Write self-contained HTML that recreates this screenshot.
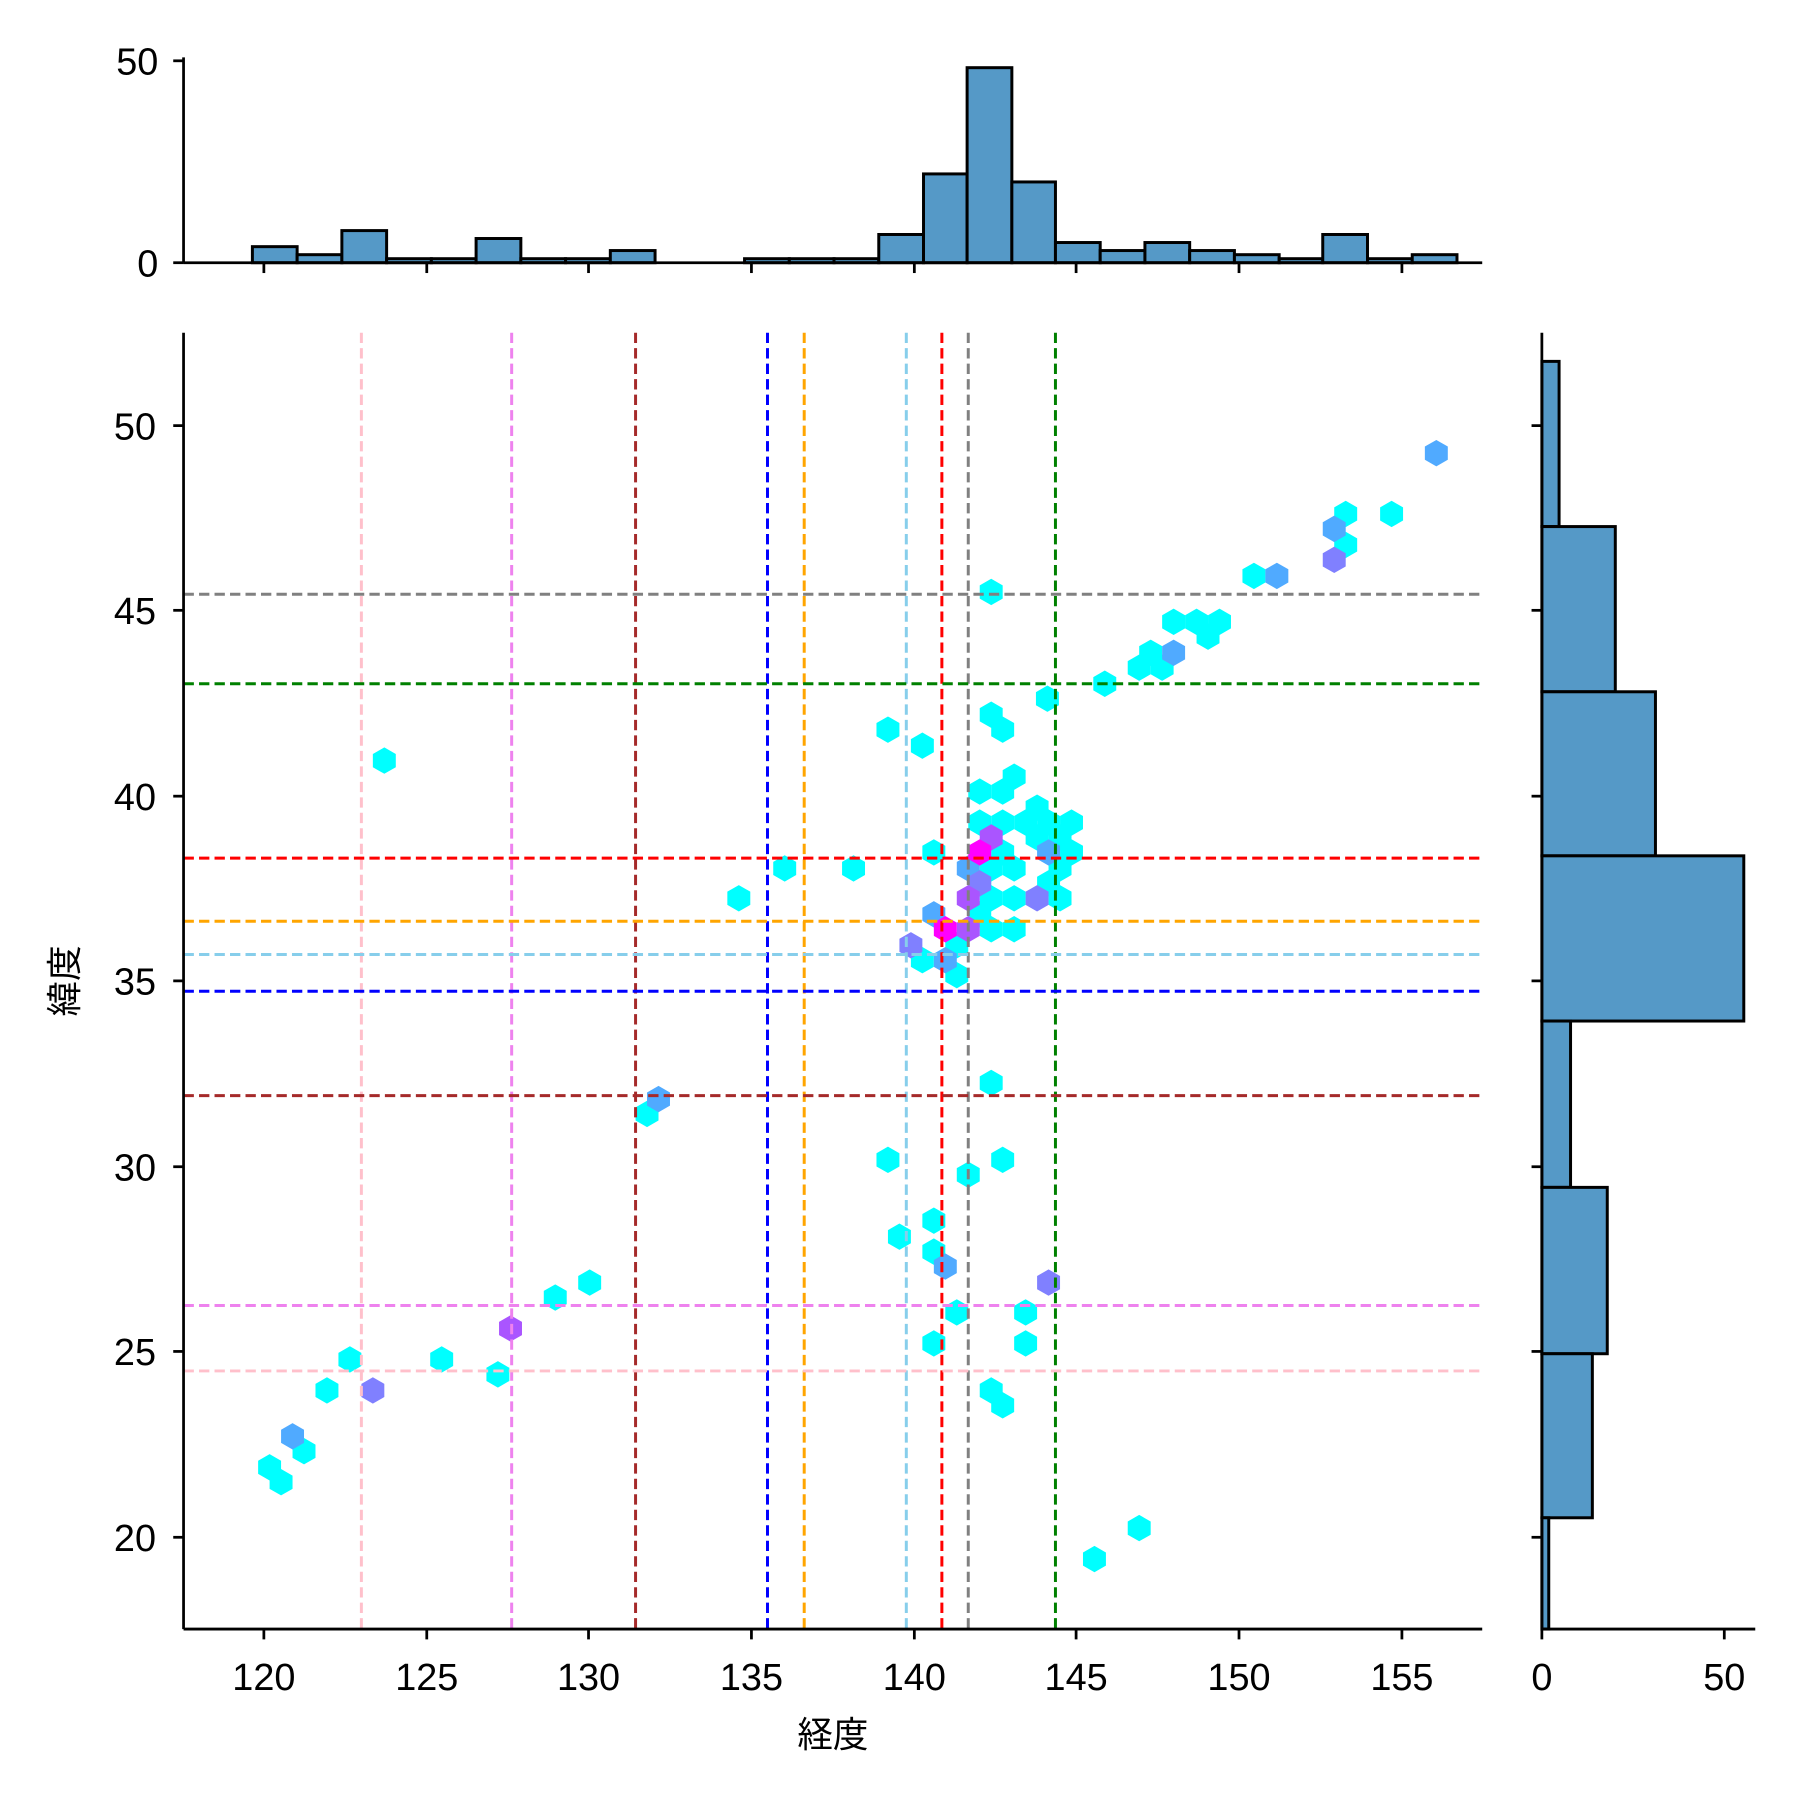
<!DOCTYPE html>
<html><head><meta charset="utf-8"><style>html,body{margin:0;padding:0;background:#fff}svg{display:block}</style></head>
<body>
<svg width="1800" height="1800" viewBox="0 0 1569 1569" xmlns="http://www.w3.org/2000/svg" font-family="'Liberation Sans','Noto Sans CJK JP',sans-serif">
<defs>
<path id="h" d="M0,-11.5 L10,-5.75 L10,5.75 L0,11.5 L-10,5.75 L-10,-5.75Z"/>
</defs>
<g fill="#5599c7" stroke="#000" stroke-width="2.6">
<rect x="220" y="215" width="39" height="14"/>
<rect x="259" y="222" width="39" height="7"/>
<rect x="298" y="201" width="39" height="28"/>
<rect x="337" y="225.5" width="39" height="3.5"/>
<rect x="376" y="225.5" width="39" height="3.5"/>
<rect x="415" y="207.9" width="39" height="21.1"/>
<rect x="454" y="225.5" width="39" height="3.5"/>
<rect x="493" y="225.5" width="39" height="3.5"/>
<rect x="532" y="218.4" width="39" height="10.6"/>
<rect x="649" y="225.5" width="39" height="3.5"/>
<rect x="688" y="225.5" width="39" height="3.5"/>
<rect x="727" y="225.5" width="39" height="3.5"/>
<rect x="766" y="204.4" width="39" height="24.6"/>
<rect x="805" y="151.6" width="38" height="77.4"/>
<rect x="843" y="59" width="39" height="170"/>
<rect x="882" y="158.6" width="38" height="70.4"/>
<rect x="920" y="211.4" width="39" height="17.6"/>
<rect x="959" y="218.4" width="39" height="10.6"/>
<rect x="998" y="211.4" width="39" height="17.6"/>
<rect x="1037" y="218.4" width="39" height="10.6"/>
<rect x="1076" y="222" width="39" height="7"/>
<rect x="1115" y="225.5" width="38" height="3.5"/>
<rect x="1153" y="204.4" width="39" height="24.6"/>
<rect x="1192" y="225.5" width="39" height="3.5"/>
<rect x="1231" y="222" width="39" height="7"/>
</g>
<g stroke="#000" stroke-width="2.4" fill="none">
<line x1="160" y1="229" x2="1292" y2="229"/>
<line x1="160" y1="50" x2="160" y2="229"/>
<line x1="151" y1="53" x2="160" y2="53"/><line x1="151" y1="229" x2="160" y2="229"/>
<line x1="230" y1="229" x2="230" y2="238"/><line x1="372" y1="229" x2="372" y2="238"/><line x1="513" y1="229" x2="513" y2="238"/><line x1="655" y1="229" x2="655" y2="238"/><line x1="797" y1="229" x2="797" y2="238"/><line x1="938" y1="229" x2="938" y2="238"/><line x1="1080" y1="229" x2="1080" y2="238"/><line x1="1222" y1="229" x2="1222" y2="238"/>
</g>
<g font-size="33" text-anchor="end" fill="#000">
<text x="138" y="65">50</text><text x="138" y="241">0</text>
</g>
<g fill="#5599c7" stroke="#000" stroke-width="2.6">
<rect x="1344" y="315" width="15" height="144"/>
<rect x="1344" y="459" width="64" height="144"/>
<rect x="1344" y="603" width="99" height="143"/>
<rect x="1344" y="746" width="176" height="144"/>
<rect x="1344" y="890" width="25" height="145"/>
<rect x="1344" y="1035" width="57" height="145"/>
<rect x="1344" y="1180" width="44" height="143"/>
<rect x="1344" y="1323" width="6" height="97"/>
</g>
<g stroke="#000" stroke-width="2.4">
<line x1="1344" y1="1420" x2="1530" y2="1420"/>
<line x1="1344" y1="290" x2="1344" y2="1420"/>
<line x1="1344" y1="1420" x2="1344" y2="1429"/><line x1="1503" y1="1420" x2="1503" y2="1429"/>
<line x1="1335" y1="371" x2="1344" y2="371"/><line x1="1335" y1="532" x2="1344" y2="532"/><line x1="1335" y1="694" x2="1344" y2="694"/><line x1="1335" y1="855" x2="1344" y2="855"/><line x1="1335" y1="1017" x2="1344" y2="1017"/><line x1="1335" y1="1178" x2="1344" y2="1178"/><line x1="1335" y1="1340" x2="1344" y2="1340"/>
</g>
<g font-size="33" text-anchor="middle" fill="#000"><text x="1344" y="1473">0</text><text x="1503" y="1473">50</text></g>
<g>
<g fill="#00ffff">
<use href="#h" x="1173" y="448"/><use href="#h" x="1213" y="448"/><use href="#h" x="1173" y="475"/><use href="#h" x="1093" y="502"/><use href="#h" x="864" y="516"/><use href="#h" x="1023" y="542"/><use href="#h" x="1043" y="542"/><use href="#h" x="1063" y="542"/><use href="#h" x="1053" y="555"/><use href="#h" x="993" y="582"/><use href="#h" x="1013" y="582"/><use href="#h" x="1003" y="569"/><use href="#h" x="963" y="596"/><use href="#h" x="913" y="609"/><use href="#h" x="864" y="623"/><use href="#h" x="874" y="636"/><use href="#h" x="774" y="636"/><use href="#h" x="804" y="650"/><use href="#h" x="335" y="663"/><use href="#h" x="884" y="677"/><use href="#h" x="854" y="690"/><use href="#h" x="874" y="690"/><use href="#h" x="854" y="717"/><use href="#h" x="874" y="717"/><use href="#h" x="894" y="717"/><use href="#h" x="904" y="704"/><use href="#h" x="914" y="717"/><use href="#h" x="934" y="717"/><use href="#h" x="904" y="730"/><use href="#h" x="924" y="730"/><use href="#h" x="814" y="743"/><use href="#h" x="874" y="743"/><use href="#h" x="934" y="743"/><use href="#h" x="684" y="757"/><use href="#h" x="744" y="757"/><use href="#h" x="864" y="757"/><use href="#h" x="884" y="757"/><use href="#h" x="924" y="757"/><use href="#h" x="854" y="770"/><use href="#h" x="914" y="770"/><use href="#h" x="864" y="783"/><use href="#h" x="884" y="783"/><use href="#h" x="924" y="783"/><use href="#h" x="644" y="783"/><use href="#h" x="854" y="797"/><use href="#h" x="864" y="810"/><use href="#h" x="884" y="810"/><use href="#h" x="834" y="824"/><use href="#h" x="804" y="837"/><use href="#h" x="834" y="850"/><use href="#h" x="564" y="971"/><use href="#h" x="864" y="944"/><use href="#h" x="774" y="1011"/><use href="#h" x="874" y="1011"/><use href="#h" x="844" y="1024"/><use href="#h" x="814" y="1064"/><use href="#h" x="784" y="1078"/><use href="#h" x="814" y="1091"/><use href="#h" x="834" y="1144"/><use href="#h" x="894" y="1144"/><use href="#h" x="514" y="1118"/><use href="#h" x="484" y="1131"/><use href="#h" x="305" y="1185"/><use href="#h" x="385" y="1185"/><use href="#h" x="434" y="1198"/><use href="#h" x="285" y="1212"/><use href="#h" x="265" y="1265"/><use href="#h" x="235" y="1279"/><use href="#h" x="245" y="1292"/><use href="#h" x="993" y="1332"/><use href="#h" x="954" y="1359"/><use href="#h" x="814" y="1171"/><use href="#h" x="894" y="1171"/><use href="#h" x="864" y="1212"/><use href="#h" x="874" y="1225"/>
</g>
<g fill="#50aaff">
<use href="#h" x="1252" y="395"/><use href="#h" x="1163" y="461"/><use href="#h" x="1113" y="502"/><use href="#h" x="1023" y="569"/><use href="#h" x="914" y="743"/><use href="#h" x="844" y="757"/><use href="#h" x="814" y="797"/><use href="#h" x="824" y="837"/><use href="#h" x="574" y="958"/><use href="#h" x="824" y="1104"/><use href="#h" x="255" y="1252"/>
</g>
<g fill="#8080ff">
<use href="#h" x="1163" y="488"/><use href="#h" x="904" y="783"/><use href="#h" x="794" y="824"/><use href="#h" x="914" y="1118"/><use href="#h" x="325" y="1212"/><use href="#h" x="854" y="770"/>
</g>
<g fill="#aa55ff">
<use href="#h" x="864" y="730"/><use href="#h" x="844" y="783"/><use href="#h" x="844" y="810"/><use href="#h" x="445" y="1158"/>
</g>
<g fill="#ff00ff">
<use href="#h" x="854" y="743"/><use href="#h" x="824" y="810"/>
</g>
</g>
<g stroke-width="2.6" stroke-dasharray="9,4.5" fill="none">
<line x1="315" y1="290" x2="315" y2="1420" stroke="pink"/>
<line x1="446" y1="290" x2="446" y2="1420" stroke="violet"/>
<line x1="554" y1="290" x2="554" y2="1420" stroke="brown"/>
<line x1="669" y1="290" x2="669" y2="1420" stroke="blue"/>
<line x1="701" y1="290" x2="701" y2="1420" stroke="orange"/>
<line x1="790" y1="290" x2="790" y2="1420" stroke="skyblue"/>
<line x1="821" y1="290" x2="821" y2="1420" stroke="red"/>
<line x1="844" y1="290" x2="844" y2="1420" stroke="gray"/>
<line x1="920" y1="290" x2="920" y2="1420" stroke="green"/>
<line x1="160" y1="518" x2="1292" y2="518" stroke="gray"/>
<line x1="160" y1="596" x2="1292" y2="596" stroke="green"/>
<line x1="160" y1="748" x2="1292" y2="748" stroke="red"/>
<line x1="160" y1="803" x2="1292" y2="803" stroke="orange"/>
<line x1="160" y1="832" x2="1292" y2="832" stroke="skyblue"/>
<line x1="160" y1="864" x2="1292" y2="864" stroke="blue"/>
<line x1="160" y1="955" x2="1292" y2="955" stroke="brown"/>
<line x1="160" y1="1138" x2="1292" y2="1138" stroke="violet"/>
<line x1="160" y1="1195" x2="1292" y2="1195" stroke="pink"/>
</g>
<g stroke="#000" stroke-width="2.4">
<line x1="160" y1="290" x2="160" y2="1420"/>
<line x1="160" y1="1420" x2="1292" y2="1420"/>
<line x1="230" y1="1420" x2="230" y2="1429"/><line x1="372" y1="1420" x2="372" y2="1429"/><line x1="513" y1="1420" x2="513" y2="1429"/><line x1="655" y1="1420" x2="655" y2="1429"/><line x1="797" y1="1420" x2="797" y2="1429"/><line x1="938" y1="1420" x2="938" y2="1429"/><line x1="1080" y1="1420" x2="1080" y2="1429"/><line x1="1222" y1="1420" x2="1222" y2="1429"/>
<line x1="151" y1="371" x2="160" y2="371"/><line x1="151" y1="532" x2="160" y2="532"/><line x1="151" y1="694" x2="160" y2="694"/><line x1="151" y1="855" x2="160" y2="855"/><line x1="151" y1="1017" x2="160" y2="1017"/><line x1="151" y1="1178" x2="160" y2="1178"/><line x1="151" y1="1340" x2="160" y2="1340"/>
</g>
<g font-size="33" text-anchor="middle" fill="#000">
<text x="230" y="1473">120</text><text x="372" y="1473">125</text><text x="513" y="1473">130</text><text x="655" y="1473">135</text><text x="797" y="1473">140</text><text x="938" y="1473">145</text><text x="1080" y="1473">150</text><text x="1222" y="1473">155</text>
</g>
<g font-size="33" text-anchor="end" fill="#000">
<text x="136" y="383">50</text><text x="136" y="544">45</text><text x="136" y="706">40</text><text x="136" y="867">35</text><text x="136" y="1029">30</text><text x="136" y="1190">25</text><text x="136" y="1352">20</text>
</g>
<text x="726" y="1523" font-size="31" text-anchor="middle">経度</text>
<text transform="translate(67,855) rotate(-90)" font-size="31" text-anchor="middle">緯度</text>
</svg>
</body></html>
